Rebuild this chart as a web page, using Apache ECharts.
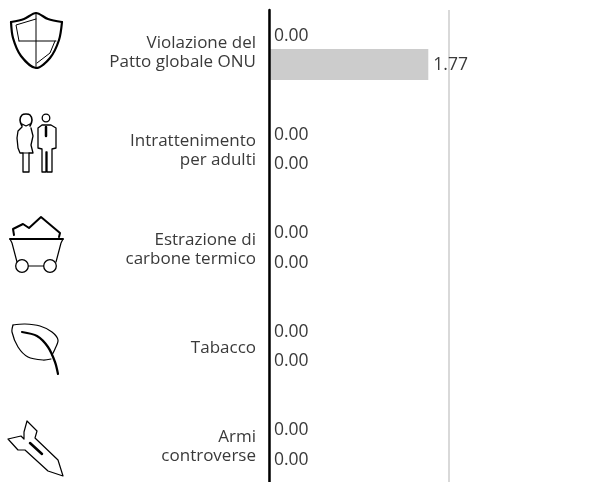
<!DOCTYPE html>
<html>
<head>
<meta charset="utf-8">
<style>html,body{margin:0;background:#fff;overflow:hidden;height:482px}#main{width:616px;height:496px}</style>
<script src="https://cdn.jsdelivr.net/npm/echarts@6/dist/echarts.min.js"></script>
</head>
<body>
<div id="main"></div>
<script>
var categories = ['Violazione del\nPatto globale ONU', 'Intrattenimento\nper adulti', 'Estrazione di\ncarbone termico', 'Tabacco', 'Armi\ncontroverse'];
var upperValues = [0, 0, 0, 0, 0];
var lowerValues = [1.77, 0, 0, 0, 0];

var FONT = '"Open Sans", "Noto Sans", sans-serif';
var TEXT = '#3a3a3a';

function line(points, width, smooth) {
    return {
        type: 'polyline',
        shape: {points: points, smooth: smooth || 0},
        style: {stroke: '#000', fill: null, lineWidth: width || 1.2, lineJoin: 'round', lineCap: 'round'}
    };
}
function ring(cx, cy, r) {
    return {
        type: 'circle',
        shape: {cx: cx, cy: cy, r: r},
        style: {stroke: '#000', fill: '#fff', lineWidth: 1.3}
    };
}

// 图标
var icons = [
    // 盾牌
    line([[11, 22], [24, 19], [36, 13], [48, 19], [62, 22]], 2.2, 0.3),
    line([[11, 22], [13, 38], [21, 56], [36, 68], [50, 58], [59, 40], [62, 22]], 2.2, 0.3),
    line([[36, 13], [36, 68]], 1),
    line([[19, 41], [56, 41]], 1),
    line([[36, 19], [16, 25], [19, 41]], 1),
    line([[55, 41], [50, 53], [37, 63]], 1),
    // 人物
    line([[22, 126], [20, 120], [22, 115], [26, 114], [30, 115], [32, 120], [30, 126]], 1.6, 0.4),
    line([[22, 124], [26, 126], [30, 124]], 1.2),
    line([[22, 127], [18, 131], [17, 138], [18, 148], [20, 153], [23, 153], [23, 172], [29, 172], [29, 153], [33, 153], [31, 145], [33, 136], [31, 128]], 1.3),
    line([[23, 153], [29, 153]], 1.2),
    ring(46, 118, 3.8),
    line([[42, 125], [38, 128], [38, 148], [42, 149], [42, 172], [46, 172], [46, 152], [47, 152], [47, 172], [52, 172], [52, 149], [56, 148], [56, 128], [51, 125], [42, 125]], 1.3),
    line([[46, 127], [46, 136]], 2.5),
    // 矿车
    line([[14, 235], [13, 229], [23, 224], [29, 228], [41, 217], [60, 233], [59, 237]], 2),
    line([[10, 239], [63, 239]], 1.8),
    line([[10, 239], [12, 243], [17, 262]], 1.2),
    line([[63, 239], [61, 243], [56, 262]], 1.2),
    line([[28, 266], [44, 266]], 1.2),
    ring(22, 266, 6.3),
    ring(50, 266, 6.3),
    // 叶子
    line([[13, 325], [25, 324], [40, 326], [52, 332], [58, 340], [55, 349], [52, 355]], 1.2, 0.3),
    line([[13, 325], [12, 332], [18, 347], [28, 357], [43, 360], [51, 359]], 1.2, 0.3),
    line([[22, 332], [37, 336], [48, 347], [55, 362], [58, 374]], 2.2, 0.3),
    // 炸弹
    line([[27, 421], [37, 431], [35, 438], [58, 460], [63, 476], [48, 471], [25, 450], [18, 450], [8, 439], [21, 436], [24, 439], [24, 432], [27, 421]], 1.2),
    line([[30, 443], [42, 454]], 2.5)
];

var valueLabel = {
    show: true,
    position: 'right',
    distance: 5,
    offset: [0, 1],
    color: TEXT,
    fontSize: 17.5,
    fontFamily: FONT,
    formatter: function (p) { return p.value.toFixed(2); }
};

var option = {
    animation: false,
    textStyle: {fontFamily: FONT},
    grid: [
        {left: 269, top: 0.45, width: 180, height: 493},
        {left: 269, top: 10, width: 180, height: 472},
        // 类目文字单独一个网格，略微下移
        {left: 269, top: 2.95, width: 180, height: 493}
    ],
    xAxis: [
        {gridIndex: 0, type: 'value', min: 0, max: 2, show: false},
        {
            gridIndex: 1, type: 'value', min: 0, max: 2, interval: 2,
            axisLine: {show: false},
            axisTick: {show: false},
            axisLabel: {show: false},
            splitLine: {show: true, lineStyle: {color: '#ccc', width: 1.5}}
        },
        {gridIndex: 2, type: 'value', min: 0, max: 2, show: false}
    ],
    yAxis: [
        {gridIndex: 0, type: 'category', inverse: true, data: categories, show: false},
        {
            gridIndex: 1, type: 'category', inverse: true, data: categories,
            axisLine: {show: true, onZero: false, lineStyle: {color: '#000', width: 2.5}},
            axisTick: {show: false},
            axisLabel: {show: false},
            z: 5
        },
        {
            gridIndex: 2, type: 'category', inverse: true, data: categories,
            axisLine: {show: false},
            axisTick: {show: false},
            axisLabel: {color: TEXT, fontSize: 17, lineHeight: 19, margin: 13, align: 'right', fontFamily: FONT}
        }
    ],
    series: [
        {
            type: 'bar', xAxisIndex: 0, yAxisIndex: 0, data: upperValues,
            barWidth: 31, barGap: '-5%',
            itemStyle: {color: '#ccc'},
            label: valueLabel
        },
        {
            type: 'bar', xAxisIndex: 0, yAxisIndex: 0, data: lowerValues,
            barWidth: 31,
            itemStyle: {color: '#ccc'},
            label: valueLabel
        }
    ],
    graphic: {elements: icons}
};

var chart = echarts.init(document.getElementById('main'));
chart.setOption(option);
</script>
</body>
</html>
